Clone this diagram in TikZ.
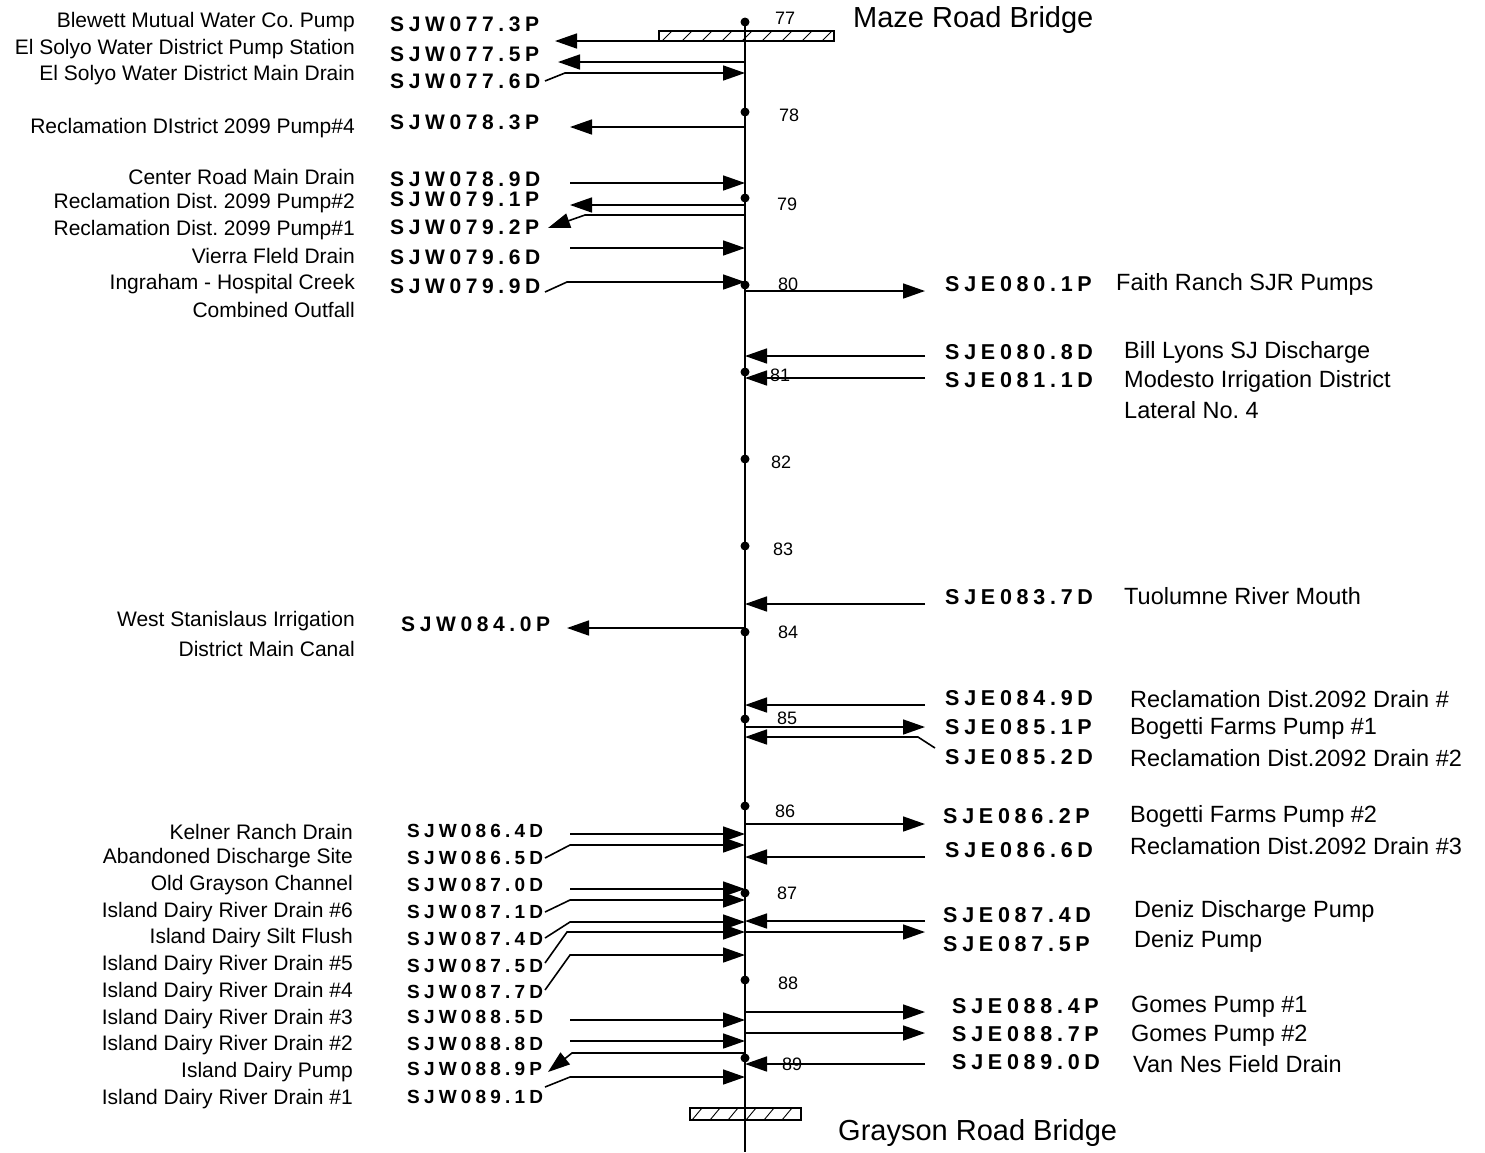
\documentclass[tikz,border=0pt]{standalone}
\usepackage{fontspec}
\setmainfont{Liberation Sans}
\newfontfamily\trackedfont[LetterSpace=22]{Liberation Sans}
\usetikzlibrary{arrows.meta}
\frenchspacing

\tikzset{
  river/.style={line width=1.4pt},
  flow/.style={line width=1.6pt, -{Triangle[length=22pt,width=15pt]}},
  mile/.style={circle, fill, inner sep=0pt, minimum size=9pt},
  code/.style={font=\trackedfont\bfseries\fontsize{21}{24}\selectfont, anchor=west, inner sep=0pt},
  smallcode/.style={code, font=\trackedfont\bfseries\fontsize{19}{22}\selectfont},
  eastcode/.style={code, font=\trackedfont\bfseries\fontsize{21.5}{24}\selectfont},
  leftdesc/.style={font=\fontsize{21}{24}\selectfont, anchor=east, inner sep=0pt},
  rightdesc/.style={font=\fontsize{23.5}{27}\selectfont, anchor=west, inner sep=0pt},
  mileno/.style={font=\fontsize{18}{20}\selectfont, anchor=west, inner sep=0pt},
  bridgename/.style={font=\fontsize{29}{32}\selectfont, anchor=west, inner sep=0pt},
  hatch/.style={line width=0.9pt},
}

\begin{document}
\begin{tikzpicture}[x=1pt, y=-1pt]
  \useasboundingbox (0,0) rectangle (1485,1152);

  % River
  \draw[river] (745,19) -- (745,1152);

  % Bridges
  \draw[line width=1.2pt] (659,31) rectangle (834,41);
  \begin{scope}
    \clip (659,31) rectangle (834,41);
    \foreach \x in {662,682,...,842} \draw[hatch] (\x,41) -- ++(10,-10);
  \end{scope}
  \draw[line width=1.2pt] (690,1108) rectangle (801,1120);
  \begin{scope}
    \clip (690,1108) rectangle (801,1120);
    \foreach \x in {692,710,...,802} \draw[hatch] (\x,1120) -- ++(10,-12);
  \end{scope}
  \node[bridgename] (maze) at (853,20) {Maze Road Bridge};
  \node[bridgename] (grayson) at (838,1133) {Grayson Road Bridge};

  % West bank labels
  \foreach \id/\dy/\txt/\cy/\code in {
      773/22/{Blewett Mutual Water Co. Pump}/24/SJW077.3P,
      775/49/{El Solyo Water District Pump Station}/54/SJW077.5P,
      776/75/{El Solyo Water District Main Drain}/81/SJW077.6D,
      783/128/{Reclamation DIstrict 2099 Pump\#4}/122/SJW078.3P,
      789/177/{Center Road Main Drain}/179/SJW078.9D,
      791/203/{Reclamation Dist. 2099 Pump\#2}/199/SJW079.1P,
      792/230/{Reclamation Dist. 2099 Pump\#1}/227/SJW079.2P,
      796/256/{Vierra Fleld Drain}/257/SJW079.6D,
      799/284/{Ingraham - Hospital Creek}/286/SJW079.9D} {
    \node[leftdesc] (dw\id) at (355,\dy) {\txt};
    \node[code] (cw\id) at (390,\cy) {\code};
  }
  \node[leftdesc] (dw799b) at (355,310) {Combined Outfall};
  \node[leftdesc] (dw840) at (355,621) {West Stanislaus Irrigation};
  \node[leftdesc] (dw840b) at (355,649) {District Main Canal};
  \node[code] (cw840) at (401,624) {SJW084.0P};

  \foreach \id/\dy/\txt/\cy/\code in {
      864/832/{Kelner Ranch Drain}/831/SJW086.4D,
      865/858/{Abandoned Discharge Site}/858/SJW086.5D,
      870/885/{Old Grayson Channel}/885/SJW087.0D,
      871/912/{Island Dairy River Drain \#6}/912/SJW087.1D,
      874/938/{Island Dairy Silt Flush}/939/SJW087.4D,
      875/965/{Island Dairy River Drain \#5}/966/SJW087.5D,
      877/992/{Island Dairy River Drain \#4}/992/SJW087.7D,
      885/1019/{Island Dairy River Drain \#3}/1017/SJW088.5D,
      888/1045/{Island Dairy River Drain \#2}/1044/SJW088.8D,
      889/1072/{Island Dairy Pump}/1069/SJW088.9P,
      891/1099/{Island Dairy River Drain \#1}/1097/SJW089.1D} {
    \node[leftdesc] (dw\id) at (353,\dy) {\txt};
    \node[smallcode] (cw\id) at (407,\cy) {\code};
  }

  % East bank labels
  \foreach \id/\cx/\cy/\code/\dx/\dy/\txt in {
      801/945/284/SJE080.1P/1116/284/{Faith Ranch SJR Pumps},
      808/945/352/SJE080.8D/1124/352/{Bill Lyons SJ Discharge},
      811/945/380/SJE081.1D/1124/381/{Modesto Irrigation District},
      837/945/597/SJE083.7D/1124/596/{Tuolumne River Mouth},
      849/945/698/SJE084.9D/1130/699/{Reclamation Dist.2092 Drain \#},
      851/945/727/SJE085.1P/1130/728/{Bogetti Farms Pump \#1},
      852/945/757/SJE085.2D/1130/758/{Reclamation Dist.2092 Drain \#2},
      862/943/816/SJE086.2P/1130/816/{Bogetti Farms Pump \#2},
      866/945/850/SJE086.6D/1130/846/{Reclamation Dist.2092 Drain \#3},
      874/943/915/SJE087.4D/1134/911/{Deniz Discharge Pump},
      875/943/944/SJE087.5P/1134/941/{Deniz Pump},
      884/952/1006/SJE088.4P/1131/1007/{Gomes Pump \#1},
      887/952/1034/SJE088.7P/1131/1036/{Gomes Pump \#2},
      890/952/1062/SJE089.0D/1133/1064/{Van Nes Field Drain}} {
    \node[eastcode] (ce\id) at (\cx,\cy) {\code};
    \node[rightdesc] (de\id) at (\dx,\dy) {\txt};
  }
  \node[rightdesc] (de811b) at (1124,410) {Lateral No. 4};

  % Straight flows into the river
  \foreach \id/\sx/\y in {w789/570/183, w796/570/248, w864/570/834, w870/570/889,
      w885/570/1020, w888/570/1041, e808/925/356, e811/925/378, e837/925/604,
      e849/925/705, e866/925/857, e874/925/921, e890/925/1064} {
    \coordinate (s\id) at (\sx,\y);
    \coordinate (r\id) at (745,\y);
    \draw[flow] (s\id) -- (r\id);
  }

  % Straight flows out of the river
  \foreach \id/\tx/\y in {w773/555/41, w775/558/62, w783/570/127, w791/570/205,
      w840/567/628, e801/925/291, e851/925/727, e862/925/824, e875/925/932,
      e884/925/1012, e887/925/1033} {
    \coordinate (r\id) at (745,\y);
    \coordinate (t\id) at (\tx,\y);
    \draw[flow] (r\id) -- (t\id);
  }

  % Bent flows into the river
  \foreach \id/\sx/\sy/\kx/\y in {w776/545/81/565/73, w799/545/292/567/282,
      w865/545/858/570/845, w871/545/912/570/900, w874/545/938/570/922,
      w875/545/963/567/932, w877/545/990/570/955, w891/545/1087/570/1077,
      e852/935/748/918/737} {
    \coordinate (s\id) at (\sx,\sy);
    \coordinate (k\id) at (\kx,\y);
    \coordinate (r\id) at (745,\y);
    \draw[flow] (s\id) -- (k\id) -- (r\id);
  }

  % Bent flows out of the river
  \foreach \id/\y/\kx/\tx/\ty in {w792/215/585/548/228, w889/1053/572/548/1072} {
    \coordinate (r\id) at (745,\y);
    \coordinate (k\id) at (\kx,\y);
    \coordinate (t\id) at (\tx,\ty);
    \draw[flow] (r\id) -- (k\id) -- (t\id);
  }

  % River miles
  \foreach \m/\y/\lx/\ly in {77/22/775/18, 78/112/779/115, 79/198/777/204,
      80/285/778/284, 81/372/770/375, 82/459/771/462, 83/546/773/549,
      84/632/778/632, 85/719/777/718, 86/806/775/811, 87/893/777/893,
      88/980/778/983, 89/1058/782/1064} {
    \node[mile] (m\m) at (745,\y) {};
    \node[mileno] (n\m) at (\lx,\ly) {\m};
  }
\end{tikzpicture}
\end{document}
